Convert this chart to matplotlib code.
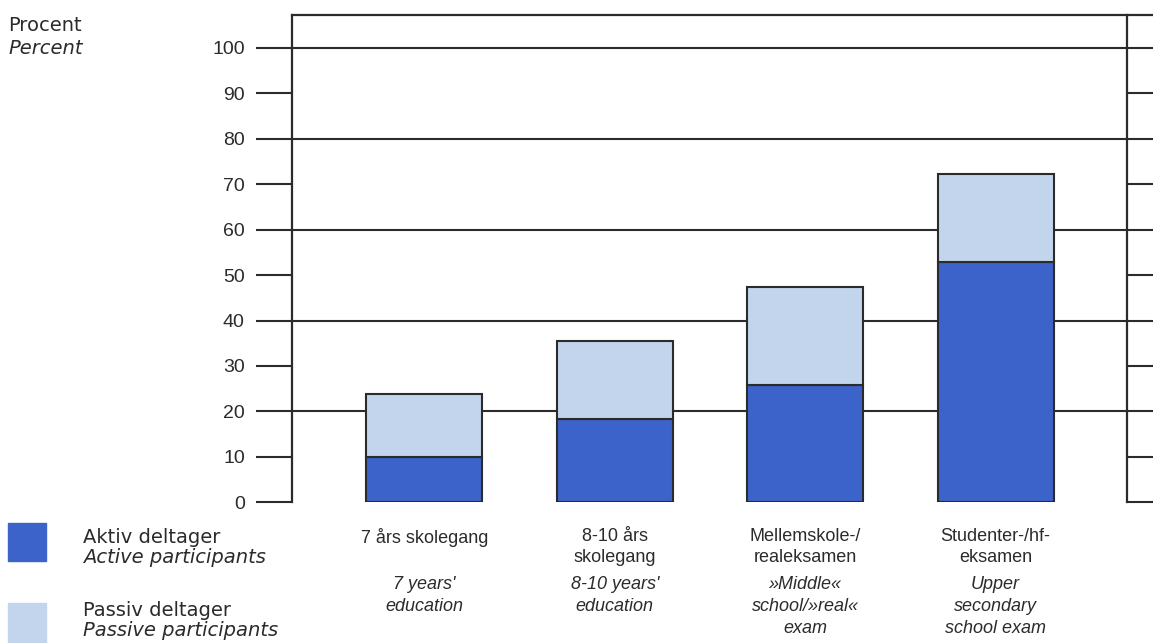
import numpy as np
import matplotlib.pyplot as plt
from matplotlib.patches import Rectangle

### Data
labels_da = ['7 års skolegang', '8-10 års\nskolegang', 'Mellemskole-/\nrealeksamen', 'Studenter-/hf-\neksamen']
labels_en = ["7 years'\neducation", "8-10 years'\neducation", '»Middle«\nschool/»real«\nexam',
             'Upper\nsecondary\nschool exam']
active = [10.0, 18.3, 25.9, 52.9]
passive = [13.8, 17.2, 21.4, 19.3]
yticks = list(range(0, 101, 10))
grid_at = [20, 40, 60, 80, 100]

dark_blue = '#3c63c9'
light_blue = '#c3d5ec'
ink = '#2b2b2b'
W, H = 1153, 643

plt.rcParams['font.family'] = ['Liberation Sans', 'DejaVu Sans']

fig = plt.figure(figsize=(W / 100, H / 100), dpi=100)
ax = fig.add_axes([292 / W, 0.2188, 835 / W, 0.7583])
x = np.arange(len(active))
ax.set_xlim(-0.695, 3.69)
ax.set_ylim(0, 107.3)

for g in grid_at:
    ax.axhline(g, color=ink, lw=1.5, zorder=1)
ax.axhline(107.3, xmin=0, xmax=1.032, color=ink, lw=1.6, clip_on=False, zorder=1)

ax.bar(x, active, width=0.61, color=dark_blue, edgecolor=ink, linewidth=1.5, zorder=3)
ax.bar(x, passive, bottom=active, width=0.61, color=light_blue, edgecolor=ink, linewidth=1.5, zorder=3)

for s in ['top', 'bottom']:
    ax.spines[s].set_visible(False)
for s in ['left', 'right']:
    ax.spines[s].set_linewidth(1.6)
    ax.spines[s].set_color(ink)

ax.set_yticks(yticks)
ax.set_yticklabels([str(t) for t in yticks])
ax.tick_params(axis='y', direction='out', length=26, width=1.5, color=ink, pad=8,
               labelsize=14, labelcolor=ink)
ax.set_xticks([])

ax2 = ax.twinx()
ax2.set_ylim(ax.get_ylim())
ax2.set_yticks(yticks)
ax2.set_yticklabels([])
ax2.tick_params(axis='y', direction='out', length=19, width=1.5, color=ink)
for s in ax2.spines.values():
    s.set_visible(False)

# category labels below the bars
tr = ax.get_xaxis_transform()
for xi, da, en in zip(x, labels_da, labels_en):
    ax.text(xi, -0.052, da, transform=tr, ha='center', va='top', fontsize=13,
            color=ink, linespacing=1.36)
    ax.text(xi, -0.152, en, transform=tr, ha='center', va='top', fontsize=13,
            color=ink, style='italic', linespacing=1.36)

# axis title
wide = ['DejaVu Sans']
fig.text(8 / W, 1 - 31 / H, 'Procent', ha='left', va='baseline', fontsize=14, color=ink, family=wide)
fig.text(8 / W, 1 - 54 / H, 'Percent', ha='left', va='baseline', fontsize=14, color=ink,
         style='italic', family=wide)

# legend
fig.patches.append(Rectangle((8 / W, 1 - 561 / H), 38 / W, 38 / H,
                             transform=fig.transFigure, color=dark_blue))
fig.patches.append(Rectangle((8 / W, 0), 38 / W, 40 / H,
                             transform=fig.transFigure, color=light_blue))
legend_rows = [('Aktiv deltager', 'normal', 543), ('Active participants', 'italic', 563),
               ('Passiv deltager', 'normal', 616), ('Passive participants', 'italic', 636)]
for txt, st, yb in legend_rows:
    fig.text(83 / W, 1 - yb / H, txt, ha='left', va='baseline', fontsize=14, color=ink,
             style=st, family=wide)

fig.savefig('out.png', dpi=100)
